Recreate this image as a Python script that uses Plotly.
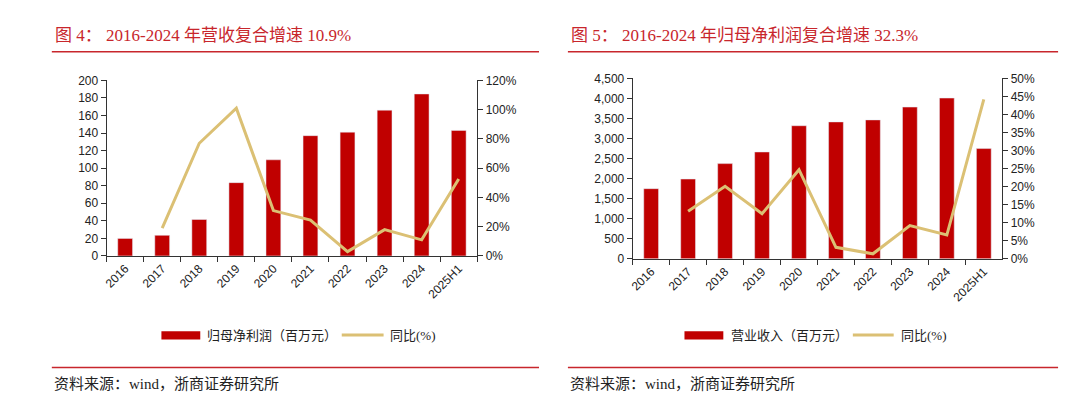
import plotly.graph_objects as go

categories = ["2016", "2017", "2018", "2019", "2020", "2021", "2022", "2023", "2024", "2025H1"]

# Left chart: 归母净利润 (百万元) and YoY
profit = [20, 23.5, 41.5, 83.5, 109.5, 137, 141, 166, 184.5, 143]
profit_yoy = [None, 0.19, 0.77, 1.01, 0.31, 0.245, 0.03, 0.18, 0.11, 0.526]

# Right chart: 营业收入 (百万元) and YoY
revenue = [1750, 1990, 2375, 2665, 3320, 3415, 3465, 3785, 4010, 2750]
revenue_yoy = [None, 0.132, 0.201, 0.125, 0.247, 0.032, 0.014, 0.092, 0.066, 0.442]

title_left = "图 4： 2016-2024 年营收复合增速 10.9%"
title_right = "图 5： 2016-2024 年归母净利润复合增速 32.3%"
legend_left = ["归母净利润（百万元）", "同比(%)"]
legend_right = ["营业收入（百万元）", "同比(%)"]
source_text = "资料来源：wind，浙商证券研究所"

W, H = 1080, 399
BAR = "#C00000"
GOLD = "#DBC074"
RED = "#C8262C"
AX = "#333333"
TICKFONT = dict(family="Liberation Sans, Arial, sans-serif", size=12, color="#222222")
CJK = "Liberation Serif, Noto Sans CJK SC, serif"

def px(x):
    return x / W

def py(y):
    return 1 - y / H

fig = go.Figure()

fig.add_trace(go.Bar(x=categories, y=profit, marker_color=BAR, width=0.4,
                     xaxis="x", yaxis="y", showlegend=False))
fig.add_trace(go.Scatter(x=categories, y=profit_yoy, mode="lines",
                         line=dict(color=GOLD, width=3), xaxis="x", yaxis="y2",
                         showlegend=False, connectgaps=False))
fig.add_trace(go.Bar(x=categories, y=revenue, marker_color=BAR, width=0.4,
                     xaxis="x2", yaxis="y3", showlegend=False))
fig.add_trace(go.Scatter(x=categories, y=revenue_yoy, mode="lines",
                         line=dict(color=GOLD, width=3), xaxis="x2", yaxis="y4",
                         showlegend=False, connectgaps=False))

xcommon = dict(type="category", showgrid=False, showline=True, linecolor=AX, linewidth=1,
               ticks="outside", ticklen=5, tickcolor=AX, tickson="boundaries",
               tickangle=-45, tickfont=TICKFONT, zeroline=False)
ycommon = dict(showgrid=False, showline=True, linecolor=AX, linewidth=1, ticks="outside",
               ticklen=5, tickcolor=AX, tickfont=TICKFONT, zeroline=False)

L_dom = [px(103), px(475)]
R_dom = [px(631), px(1002)]
L_y = [py(258), py(76)]
R_y = [py(261), py(74)]

fig.update_layout(
    width=W, height=H,
    margin=dict(l=0, r=0, t=0, b=0),
    paper_bgcolor="white", plot_bgcolor="white",
    bargap=0.6,
    xaxis=dict(domain=L_dom, anchor="y", **xcommon),
    yaxis=dict(domain=L_y, anchor="x", range=[0, 200], dtick=20, **ycommon),
    yaxis2=dict(overlaying="y", side="right", anchor="x", range=[0, 1.2], dtick=0.2,
                tickformat=".0%", **ycommon),
    xaxis2=dict(domain=R_dom, anchor="y3", **xcommon),
    yaxis3=dict(domain=R_y, anchor="x2", range=[0, 4500], dtick=500, tickformat=",",
                **ycommon),
    yaxis4=dict(overlaying="y3", side="right", anchor="x2", range=[0, 0.5], dtick=0.05,
                tickformat=".0%", **ycommon),
)

shapes = []
annotations = []

# titles and rules
for x0, x1, title in [(48, 537, title_left), (566, 1058, title_right)]:
    annotations.append(dict(text=title, x=px(x0 + 1), y=py(30), xref="paper", yref="paper",
                            xanchor="left", yanchor="middle", showarrow=False,
                            font=dict(family=CJK, size=17, color=RED)))
    shapes.append(dict(type="line", x0=px(x0), x1=px(x1), y0=py(46.5), y1=py(46.5),
                       xref="paper", yref="paper", line=dict(color=RED, width=1.5)))
    shapes.append(dict(type="line", x0=px(x0), x1=px(x1), y0=py(373.5), y1=py(373.5),
                       xref="paper", yref="paper", line=dict(color=RED, width=1.5)))
    annotations.append(dict(text=source_text, x=px(x0), y=py(391), xref="paper", yref="paper",
                            xanchor="left", yanchor="middle", showarrow=False,
                            font=dict(family=CJK, size=15, color="#222222")))

# legends
for (rx0, rx1, tx1, lx0, lx1, tx2), labels in [
    ((158, 197, 202, 339, 381, 385), legend_left),
    ((683, 722, 728, 852, 893, 898), legend_right),
]:
    shapes.append(dict(type="rect", x0=px(rx0), x1=px(rx1), y0=py(344.5), y1=py(336),
                       xref="paper", yref="paper", fillcolor=BAR, line=dict(width=0)))
    shapes.append(dict(type="line", x0=px(lx0), x1=px(lx1), y0=py(340), y1=py(340),
                       xref="paper", yref="paper", line=dict(color=GOLD, width=3)))
    annotations.append(dict(text=labels[0], x=px(tx1), y=py(340), xref="paper", yref="paper",
                            xanchor="left", yanchor="middle", showarrow=False,
                            font=dict(family=CJK, size=13, color="#222222")))
    annotations.append(dict(text=labels[1], x=px(tx2), y=py(340), xref="paper", yref="paper",
                            xanchor="left", yanchor="middle", showarrow=False,
                            font=dict(family=CJK, size=13, color="#222222")))

fig.update_layout(shapes=shapes, annotations=annotations)

post = (
    "document.documentElement.style.margin='0';"
    "document.body.style.margin='0';"
    "document.body.style.overflow='hidden';"
    "var d=document.getElementById('{plot_id}');"
    "d.style.position='fixed';d.style.left='0px';d.style.top='0px';"
)

fig.write_html("out.html", config={"displayModeBar": False}, post_script=post)
